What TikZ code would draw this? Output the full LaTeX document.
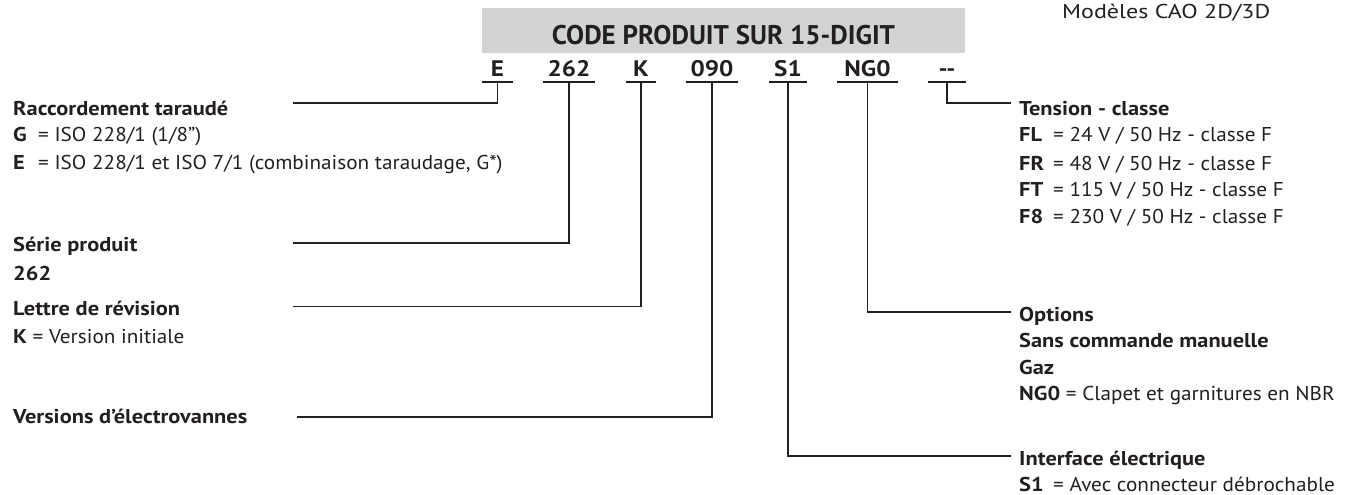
\documentclass[tikz,border=0pt]{standalone}
\usepackage{fontspec}
\setmainfont{PT Sans}
\newfontfamily\lblfont{PT Sans}[UprightFeatures={FakeStretch=1.06},BoldFeatures={FakeStretch=1.12}]
\newfontfamily\caofont{PT Sans}[FakeStretch=1.2]
\usepackage{tikz}

\definecolor{ink}{HTML}{231F20}
\definecolor{band}{HTML}{D1D3D4}
\newcommand{\keyL}[1]{\makebox[25pt][l]{\bfseries #1}}
\newcommand{\keyR}[1]{\makebox[34pt][l]{\bfseries #1}}

\begin{document}
\begin{tikzpicture}[x=1pt,y=-1pt,
  every node/.style={inner sep=0pt,text=ink},
  lbl/.style={anchor=base west,font=\lblfont\fontsize{20}{24}\selectfont},
  hd/.style={lbl,font=\lblfont\bfseries\fontsize{20}{24}\selectfont},
  code/.style={anchor=base,font=\lblfont\bfseries\fontsize{22.5}{26}\selectfont,inner ysep=5pt},
  lead/.style={draw=ink,line width=1.6pt}]
  \useasboundingbox (0,0) rectangle (1360,495);
  % header
  \node[fill=band,minimum width=483,minimum height=45] (band) at (723.5,30.5) {};
  \node[anchor=base,font=\bfseries\fontsize{27}{30}\selectfont] (title) at (723.5,45) {CODE PRODUIT SUR 15-DIGIT};
  \node[anchor=base west,font=\caofont\fontsize{20}{24}\selectfont] (cao) at (1062,18.3) {Modèles CAO 2D/3D};
  % code digits
  \node[code,minimum width=30] (cE) at (497.5,76.7) {E};
  \node[code,minimum width=52] (c262) at (569,76.7) {262};
  \node[code,minimum width=30] (cK) at (641,76.7) {K};
  \node[code,minimum width=52] (c090) at (712,76.7) {090};
  \node[code,minimum width=38] (cS1) at (788,76.7) {S1};
  \node[code,minimum width=60] (cNG0) at (867.5,76.7) {NG0};
  \node[code,minimum width=37] (cT) at (947,76.7) {-{}-};
  \foreach \c in {cE,c262,cK,c090,cS1,cNG0,cT}
    \draw[lead] (\c.south west) -- (\c.south east);
  % left labels
  \node[hd] (racc) at (13,115) {Raccordement taraudé};
  \node[lbl] (raccG) at (13,141.7) {\keyL{G}= ISO 228/1 (1/8”)};
  \node[lbl] (raccE) at (13,169.3) {\keyL{E}= ISO 228/1 et ISO 7/1 (combinaison taraudage, G*)};
  \node[hd] (serie) at (13,251.7) {Série produit};
  \node[hd] (serieV) at (13,280) {262};
  \node[hd] (rev) at (13,315) {Lettre de révision};
  \node[lbl] (revK) at (13,343) {\textbf{K} = Version initiale};
  \node[hd] (vers) at (13,423.3) {Versions d’électrovannes};
  % right labels
  \node[hd] (tens) at (1019,115) {Tension - classe};
  \node[lbl] (tensL) at (1019,141.7) {\keyR{FL}= 24 V / 50 Hz - classe F};
  \node[lbl] (tensR) at (1019,170) {\keyR{FR}= 48 V / 50 Hz - classe F};
  \node[lbl] (tensT) at (1019,196.7) {\keyR{FT}= 115 V / 50 Hz - classe F};
  \node[lbl] (tens8) at (1019,223.3) {\keyR{F8}= 230 V / 50 Hz - classe F};
  \node[hd] (opt) at (1019,321) {Options};
  \node[hd] (optM) at (1019,347.5) {Sans commande manuelle};
  \node[hd] (optG) at (1019,374) {Gaz};
  \node[lbl] (optN) at (1019,400) {\textbf{NG0} = Clapet et garnitures en NBR};
  \node[hd] (elec) at (1019,465) {Interface électrique};
  \node[lbl] (elecS) at (1019,491) {\keyR{S1}= Avec connecteur débrochable};
  % leader ends
  \coordinate (eRacc) at (293,103);
  \coordinate (eSerie) at (293,242.7);
  \coordinate (eRev) at (293,306.5);
  \coordinate (eVers) at (297,416.7);
  \coordinate (eTens) at (1011,103);
  \coordinate (eOpt) at (1011,312);
  \coordinate (eElec) at (1011,456);
  % leaders
  \draw[lead] (cE.south) |- (eRacc);
  \draw[lead] (c262.south) |- (eSerie);
  \draw[lead] (cK.south) |- (eRev);
  \draw[lead] (c090.south) |- (eVers);
  \draw[lead] (cS1.south) |- (eElec);
  \draw[lead] (cNG0.south) |- (eOpt);
  \draw[lead] (cT.south) |- (eTens);
\end{tikzpicture}
\end{document}
